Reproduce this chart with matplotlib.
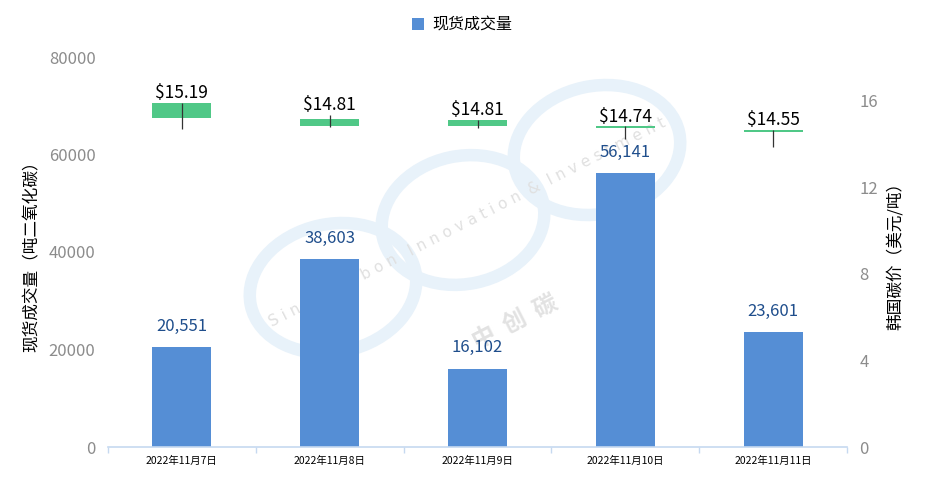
import matplotlib
matplotlib.use("Agg")
import matplotlib.pyplot as plt
from matplotlib.patches import Ellipse, Rectangle
from matplotlib.transforms import IdentityTransform
import numpy as np

plt.rcParams['font.family'] = ['Noto Sans CJK SC', 'DejaVu Sans']

# ---- data ----
dates = ["2022年11月7日", "2022年11月8日", "2022年11月9日", "2022年11月10日", "2022年11月11日"]
volume = [20551, 38603, 16102, 56141, 23601]
price_open = [15.88, 15.14, 15.10, 14.80, 14.65]
price_high = [15.88, 15.33, 15.10, 14.80, 14.65]
price_low = [14.68, 14.76, 14.73, 14.22, 13.86]
price_close = [15.19, 14.81, 14.81, 14.74, 14.55]
price_labels = ["$15.19", "$14.81", "$14.81", "$14.74", "$14.55"]

W, H = 926, 478
fig = plt.figure(figsize=(W / 100, H / 100), dpi=100)
fig.patch.set_facecolor('white')

# ---- watermark (decoration, pixel coords) ----
ring_color = '#e8f2fa'
for (cx, cy, rx, ry, ang) in [(333, 288, 84, 64, 12), (463, 220, 82, 64, 12), (597, 150, 84, 64, 12)]:
    e = Ellipse((cx, H - cy), 2 * rx, 2 * ry, angle=ang, fill=False, edgecolor=ring_color,
                linewidth=9, transform=IdentityTransform(), zorder=-5)
    fig.add_artist(e)
fig.text(467 / W, 1 - 222 / H, "S i n o   C a r b o n   I n n o v a t i o n  &  I n v e s t m e n t",
         rotation=27, ha='center', va='center', fontsize=11, color='#e0e0e0',
         rotation_mode='anchor', zorder=-4, family=['DejaVu Sans'])
fig.text(515 / W, 1 - 322 / H, "中  创  碳", rotation=27, ha='center', va='center',
         fontsize=17, color='#e2e2e2', rotation_mode='anchor', zorder=-4, fontweight='bold')

ax = fig.add_axes([108 / W, 1 - 447 / H, (847 - 108) / W, (447 - 57) / H])
ax.patch.set_visible(False)
ax2 = ax.twinx()
ax2.patch.set_visible(False)

x = np.arange(len(dates))
bar_w = 0.4
bars = ax.bar(x, volume, width=bar_w, color='#558ed5', zorder=2, label='现货成交量')
for xi, v in zip(x, volume):
    ax.annotate(f"{v:,}", (xi, v), xytext=(0, 15), textcoords='offset points',
                ha='center', va='center', fontsize=12, color='#1f4e8c')

ax.set_xlim(-0.5, len(dates) - 0.5)
ax.set_ylim(0, 80000)
ax.set_yticks([0, 20000, 40000, 60000, 80000])
ax.set_yticklabels(["0", "20000", "40000", "60000", "80000"])
ax.tick_params(axis='y', length=0, pad=9, labelsize=12, labelcolor='#8c8c8c')
ax.set_xticks(x)
ax.set_xticklabels(dates)
ax.tick_params(axis='x', which='major', length=0, pad=6, labelsize=7.5, labelcolor='black')
ax.set_xticks(np.arange(len(dates) + 1) - 0.5, minor=True)
ax.tick_params(axis='x', which='minor', length=4, color='#c6d9f0', width=1)
for s in ['top', 'left', 'right']:
    ax.spines[s].set_visible(False)
ax.spines['bottom'].set_color('#c6d9f0')
ax.spines['bottom'].set_linewidth(1.2)
ax.set_ylabel("现货成交量（吨二氧化碳）", fontsize=12, color='black', labelpad=6)

# candlesticks on right axis
ax2.set_ylim(0, 18)
ax2.set_yticks([0, 4, 8, 12, 16])
ax2.tick_params(axis='y', length=0, pad=9, labelsize=12, labelcolor='#8c8c8c')
for s in ['top', 'left', 'right', 'bottom']:
    ax2.spines[s].set_visible(False)
for xi, o, hi, lo, c, lab in zip(x, price_open, price_high, price_low, price_close, price_labels):
    ax2.vlines(xi, lo, max(hi, o, c), color='#333333', linewidth=0.9, zorder=3)
    bottom = min(o, c)
    height = max(abs(o - c), 0.09)
    ax2.add_patch(Rectangle((xi - bar_w / 2, bottom), bar_w, height, facecolor='#50c887',
                            edgecolor='none', zorder=2))
    top = max(o, c, hi)
    ax2.annotate(lab, (xi, top), xytext=(0, 7), textcoords='offset points',
                 ha='center', va='center', fontsize=12.5, color='black', zorder=4)
ax2.set_ylabel("韩国碳价（美元/吨）", fontsize=12, color='black', labelpad=6)

leg = fig.legend(handles=[bars], labels=['现货成交量'], loc='center', bbox_to_anchor=(462 / W, 1 - 25 / H),
                 frameon=False, fontsize=11.5, handlelength=0.8, handleheight=0.8, handletextpad=0.5)

fig.savefig("out.png", dpi=100, facecolor='white')
